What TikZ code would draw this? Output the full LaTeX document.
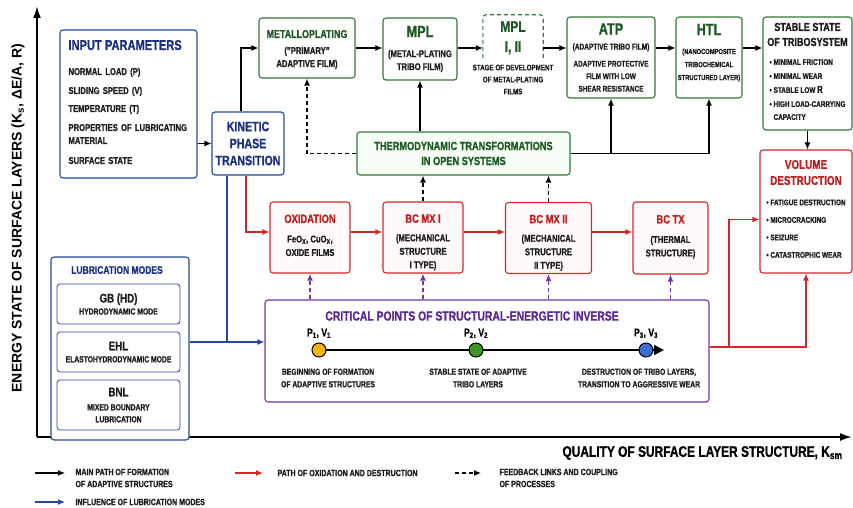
\documentclass[tikz,border=0pt]{standalone}
\usepackage{fontspec}
\setmainfont{Liberation Sans}[FakeStretch=0.78, BoldFeatures={FakeBold=1.0}]
\newfontfamily\widefont{Liberation Sans}
\usepackage{tikz}
\usetikzlibrary{arrows.meta,positioning,calc}

\definecolor{boxblue}{RGB}{38,72,160}
\definecolor{textblue}{RGB}{28,48,130}
\definecolor{boxgreen}{RGB}{50,120,55}
\definecolor{textgreen}{RGB}{30,90,35}
\definecolor{boxred}{RGB}{212,40,40}
\definecolor{textred}{RGB}{195,30,30}
\definecolor{boxpurple}{RGB}{112,55,165}
\definecolor{textpurple}{RGB}{92,40,145}
\definecolor{darktext}{RGB}{30,30,30}
\definecolor{dotyellow}{RGB}{245,180,20}
\definecolor{dotgreen}{RGB}{60,150,40}
\definecolor{dotblue}{RGB}{60,110,210}

\newcommand{\fsz}[2]{\fontsize{#1}{#2}\selectfont}
\newcommand{\greentitle}[2][12]{{\color{textgreen}\fsz{#1}{#1}#2}}
\newcommand{\redtitle}[1]{{\color{textred}\fsz{12}{12}#1}}

\begin{document}
\begin{tikzpicture}[
        x=1pt, y=-1pt,
        >={Latex[length=7pt,width=6pt]},
        box/.style={rectangle, rounded corners=3pt, line width=1.1pt, fill=white, align=center, inner sep=1pt, text=darktext, font=\bfseries\fsz{9.8}{13}},
        bluebox/.style={box, draw=boxblue},
        greenbox/.style={box, draw=boxgreen},
        redbox/.style={box, draw=boxred, fill=red!2, font=\bfseries\fsz{9.8}{13.5}},
        modebox/.style={box, draw=boxblue, line width=0.8pt, minimum width=123, font=\bfseries\fsz{8.7}{12}},
        arrow/.style={->, line width=1.2pt},
        redarrow/.style={arrow, draw=boxred},
        bluearrow/.style={arrow, draw=boxblue},
        fb/.style={arrow, dash pattern=on 4pt off 3pt},
        pfb/.style={fb, draw=boxpurple},
        axis/.style={line width=2pt, -{Latex[length=12pt,width=8pt]}},
        dot/.style={circle, draw=black, line width=1pt, minimum size=14pt, inner sep=0pt},
        desc/.style={align=center, text=darktext, font=\bfseries\fsz{8.7}{12.5}},
        legend/.style={anchor=west, align=left, text=darktext, font=\bfseries\fsz{9}{12}}
    ]
    \useasboundingbox (0,0) rectangle (853,508);

    % axes
    \coordinate (origin) at (37,437);
    \coordinate (ytop) at (37,6);
    \coordinate (xend) at (852,437);
    \draw[axis] (origin) -- (ytop);
    \draw[axis] (origin) -- (xend);
    \node[rotate=90, font=\widefont\bfseries\fsz{14}{16}] (ylabel) at (18,218) {ENERGY STATE OF SURFACE LAYERS (K\textsubscript{s}, ΔE/A, R)};
    \node[anchor=east, font=\bfseries\fsz{15.3}{16}] (xlabel) at (846,453) {QUALITY OF SURFACE LAYER STRUCTURE, K\textsubscript{sm}};

    % input and lubrication
    \node[bluebox, minimum width=137, minimum height=148, text width=120, align=left] (inparams) at (128.5,104)
        {{\color{textblue}\fsz{14.2}{14}INPUT PARAMETERS}\\[12pt]
         NORMAL LOAD (P)\\[6pt] SLIDING SPEED (V)\\[5pt] TEMPERATURE (T)\\[6pt]
         PROPERTIES OF LUBRICATING\\ MATERIAL\\[7pt] SURFACE STATE\\[-9pt]~};
    \node[bluebox, minimum width=72, minimum height=63, text=textblue, font=\bfseries\fsz{13.6}{17}] (kinetic) at (248,143.5) {KINETIC\\PHASE\\TRANSITION};

    \node[bluebox, minimum width=138, minimum height=183] (lubr) at (120,348.5) {};
    \node[text=textblue, font=\bfseries\fsz{10.9}{12}] (lubrtitle) at (117,270) {LUBRICATION MODES};
    \node[modebox, minimum height=40] (gb) at (118.5,304) {{\fsz{12.5}{12}GB (HD)}\\HYDRODYNAMIC MODE};
    \node[modebox, minimum height=40] (ehl) at (118.5,352) {{\fsz{12.5}{12}EHL}\\ELASTOHYDRODYNAMIC MODE};
    \node[modebox, minimum height=50] (bnl) at (118.5,405) {{\fsz{12.5}{12}BNL}\\[2pt]MIXED BOUNDARY\\LUBRICATION};

    % adaptive film row
    \coordinate (toprow) at (0,48);
    \node[greenbox, minimum width=96, minimum height=60] (metallo) at (307,48)
        {\rule{0pt}{11pt}\greentitle[11.4]{METALLOPLATING}\\[3pt]("PRIMARY"\\ADAPTIVE FILM)};
    \node[greenbox, minimum width=74, minimum height=62] (mpl) at (420,49)
        {\greentitle[16.3]{MPL}\\[7pt](METAL-PLATING\\TRIBO FILM)};
    \node[minimum width=60, minimum height=43, align=center, inner sep=0pt, font=\bfseries\fsz{15.3}{20}, text=textgreen] (mplstage) at (513,36.5) {\rule{0pt}{13pt}MPL\\I, II};
    \draw[boxgreen, line width=1.1pt, dash pattern=on 4pt off 3pt, rounded corners=3pt]
        (mplstage.south west) -- (mplstage.north west) -- (mplstage.north east) -- (mplstage.south east);
    \node[desc, below=3pt of mplstage, font=\bfseries\fsz{8}{12}] (stagetxt) {STAGE OF DEVELOPMENT\\OF METAL-PLATING\\FILMS};
    \node[greenbox, minimum width=88, minimum height=81, font=\bfseries\fsz{8.2}{12.5}] (atp) at (611,57.5)
        {\greentitle[16.3]{ATP}\\[2.5pt]{\fsz{8.4}{9}(ADAPTIVE TRIBO FILM)}\\[4.5pt]ADAPTIVE PROTECTIVE\\FILM WITH LOW\\SHEAR RESISTANCE};
    \node[greenbox, minimum width=66, minimum height=81, font=\bfseries\fsz{7.4}{13}] (htl) at (709,57.5)
        {\greentitle[16.3]{HTL}\\[6pt](NANOCOMPOSITE\\TRIBOCHEMICAL\\STRUCTURED LAYER)\\[-2pt]~};
    \node[greenbox, minimum width=89, minimum height=113, font=\bfseries\fsz{11.6}{15}] (stable) at (807.5,73.5)
        {STABLE STATE\\OF TRIBOSYSTEM\\[8pt]
         {\fsz{8.2}{14}\begin{tabular}{@{}l@{}}
         \textbullet\ MINIMAL FRICTION\\ \textbullet\ MINIMAL WEAR\\ \textbullet\ STABLE LOW {\fsz{10}{10}R}\\
         \textbullet\ HIGH LOAD-CARRYING\\[-1pt] \phantom{\textbullet}\ CAPACITY\end{tabular}}};
    \node[greenbox, fill=green!3, minimum width=213, minimum height=43, text=textgreen, font=\bfseries\fsz{11.8}{15}] (thermo) at (463.5,153.5)
        {THERMODYNAMIC TRANSFORMATIONS\\IN OPEN SYSTEMS};

    % oxidation row
    \coordinate (redrow) at (0,232);
    \node[redbox, minimum width=80, minimum height=71] (oxid) at (310,237.5)
        {\redtitle{OXIDATION}\\[6pt]FeO\textsubscript{X}, CuO\textsubscript{X},\\OXIDE FILMS\\[-9pt]~};
    \node[redbox, minimum width=80, minimum height=71] (bcmx1) at (423,237.5)
        {\rule{0pt}{18pt}\redtitle{BC MX I}\\[5pt](MECHANICAL\\STRUCTURE\\I TYPE)};
    \node[redbox, minimum width=86, minimum height=71] (bcmx2) at (548.5,238)
        {\rule{0pt}{18pt}\redtitle{BC MX II}\\[5pt](MECHANICAL\\STRUCTURE\\II TYPE)};
    \node[redbox, minimum width=75, minimum height=72] (bctx) at (670.5,238)
        {\redtitle{BC TX}\\[6pt](THERMAL\\STRUCTURE)\\[-9pt]~};
    \node[box, draw=boxred, minimum width=92, minimum height=123, font=\bfseries\fsz{12.7}{16}, text=textred] (volume) at (806,211.5)
        {VOLUME\\DESTRUCTION\\[7pt]
         {\color{darktext}\fsz{8.2}{17.5}\begin{tabular}{@{}l@{}}
         \textbullet\ FATIGUE DESTRUCTION\\ \textbullet\ MICROCRACKING\\ \textbullet\ SEIZURE\\ \textbullet\ CATASTROPHIC WEAR\end{tabular}}};

    % critical points
    \node[box, draw=boxpurple, minimum width=444, minimum height=102] (critical) at (487,351) {};
    \node[text=textpurple, font=\bfseries\fsz{13.3}{14}] (crittitle) at (472,316) {CRITICAL POINTS OF STRUCTURAL-ENERGETIC INVERSE};
    \coordinate (c1) at (319,350);
    \coordinate (c2) at (476,350);
    \coordinate (c3) at (646,350);
    \coordinate (ctip) at (664,350);
    \draw[line width=1.3pt, -{Triangle[length=10pt,width=10pt]}] (c1) -- (ctip);
    \node[dot, fill=dotyellow] (p1) at (c1) {};
    \node[dot, fill=dotgreen] (p2) at (c2) {};
    \node[dot, fill=dotblue] (p3) at (c3) {};
    \node[above=1pt of p1, font=\bfseries\fsz{11}{12}] (p1lab) {P\textsubscript{1}, V\textsubscript{1}};
    \node[above=1pt of p2, font=\bfseries\fsz{11}{12}] (p2lab) {P\textsubscript{2}, V\textsubscript{2}};
    \node[above=1pt of p3, font=\bfseries\fsz{11}{12}] (p3lab) {P\textsubscript{3}, V\textsubscript{3}};
    \node[desc] (p1desc) at (328,378) {BEGINNING OF FORMATION\\OF ADAPTIVE STRUCTURES};
    \node[desc] (p2desc) at (478,378) {STABLE STATE OF ADAPTIVE\\TRIBO LAYERS};
    \node[desc] (p3desc) at (639,378) {DESTRUCTION OF TRIBO LAYERS,\\TRANSITION TO AGGRESSIVE WEAR};

    % main path
    \draw[arrow] (inparams.east |- kinetic.west) -- (kinetic.west);
    \draw[arrow] ([xshift=-7pt]kinetic.north) |- (metallo.west);
    \draw[arrow] (metallo.east |- toprow) -- (mpl.west |- toprow);
    \draw[arrow] (mpl.east |- toprow) -- (mplstage.west |- toprow);
    \draw[arrow] (mplstage.east |- toprow) -- (atp.west |- toprow);
    \draw[arrow] (atp.east |- toprow) -- (htl.west |- toprow);
    \draw[arrow] (htl.east |- toprow) -- (stable.west |- toprow);
    \draw[arrow] (stable.south) -- (stable.south |- volume.north);
    \draw[arrow] (mpl.south |- thermo.north) -- (mpl.south);
    \draw[arrow] (thermo.east) -| (htl.south);
    \draw[arrow] (thermo.east -| atp.south) -- (atp.south);

    % feedback links
    \draw[fb] (thermo.west) -| (metallo.south);
    \draw[fb] (bcmx1.north) -- (bcmx1.north |- thermo.south);
    \draw[fb] (bcmx2.north) -- (bcmx2.north |- thermo.south);
    \foreach \n in {oxid,bcmx1,bcmx2,bctx}
        \draw[pfb] (critical.north -| \n.south) -- (\n.south);

    % oxidation and destruction
    \draw[redarrow] ([xshift=-2pt]kinetic.south) |- (oxid.west |- redrow);
    \draw[redarrow] (oxid.east |- redrow) -- (bcmx1.west |- redrow);
    \draw[redarrow] (bcmx1.east |- redrow) -- (bcmx2.west |- redrow);
    \draw[redarrow] (bcmx2.east |- redrow) -- (bctx.west |- redrow);
    \coordinate (split) at (729,347);
    \draw[redarrow] (critical.east |- split) -| (volume.south);
    \draw[redarrow] (split) |- ([yshift=-8pt]volume.west);

    % lubrication influence
    \coordinate (bluerow) at (0,342);
    \draw[bluearrow] (lubr.east |- bluerow) -- (critical.west |- bluerow);
    \draw[boxblue, line width=1.2pt] ([xshift=-21pt]kinetic.south) -- ([xshift=-21pt]kinetic.south |- bluerow);

    % legend
    \coordinate (lg1a) at (35,473); \coordinate (lg1b) at (65,473);
    \coordinate (lg2a) at (235,473); \coordinate (lg2b) at (263,473);
    \coordinate (lg3a) at (455,473); \coordinate (lg3b) at (481,473);
    \coordinate (lg4a) at (35,502); \coordinate (lg4b) at (65,502);
    \draw[arrow] (lg1a) -- (lg1b);
    \draw[redarrow] (lg2a) -- (lg2b);
    \draw[fb] (lg3a) -- (lg3b);
    \draw[bluearrow] (lg4a) -- (lg4b);
    \node[legend] (lg1) at (72,478) {MAIN PATH OF FORMATION\\OF ADAPTIVE STRUCTURES};
    \node[legend] (lg2) at (274,473) {PATH OF OXIDATION AND DESTRUCTION};
    \node[legend] (lg3) at (496,478) {FEEDBACK LINKS AND COUPLING\\OF PROCESSES};
    \node[legend] (lg4) at (72,502) {INFLUENCE OF LUBRICATION MODES};
\end{tikzpicture}
\end{document}
